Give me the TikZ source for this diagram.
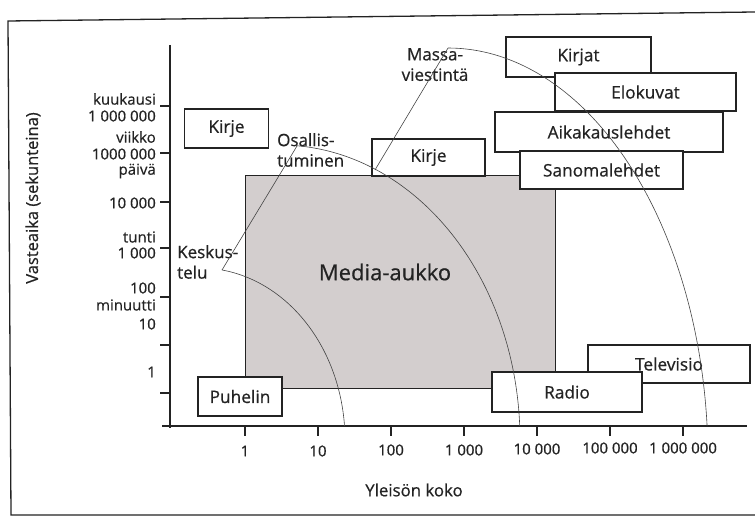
\documentclass[tikz,border=0pt]{standalone}
\usepackage{fontspec}
\setmainfont{Open Sans}[FakeBold=0.6]
\definecolor{gapgray}{RGB}{211,206,206}
\definecolor{ink}{RGB}{35,35,35}
\begin{document}
\begin{tikzpicture}[x=1pt,y=-1pt,
  every node/.style={text=ink},
  box/.style={draw=ink, line width=1.1pt, fill=white, inner sep=0pt,
    font=\fontsize{17.3}{19}\selectfont},
  ticklab/.style={font=\fontsize{15}{16}\selectfont, inner sep=0pt},
  curvelab/.style={font=\fontsize{17}{20.5}\selectfont, inner sep=0pt},
  curve/.style={draw=ink!85, line width=0.6pt},
  axis/.style={draw=ink, line width=1.1pt},
  frame/.style={draw=ink, line width=1.3pt}
]
\useasboundingbox (0,0) rectangle (755,518);

% outer frame
\draw[frame] (755,12) -- (8,21) -- (11,515) -- (755,515);

% media gap area
\node[draw=ink, line width=1.1pt, fill=gapgray, minimum width=310pt, minimum height=213pt,
  inner sep=0pt, anchor=north west] (gap) at (245,175) {};
\node[font=\fontsize{22}{24}\selectfont] (gaplab) at (385,272) {Media-aukko};

% axes
\draw[axis] (170,45) -- (170,428);
\draw[axis] (162,426) -- (747,426);
\foreach \yy in {106,153,202,248,297,345,393} \draw[axis] (160,\yy) -- (170,\yy);
\foreach \xx in {245,318,391,464,537,610,683} \draw[axis] (\xx,426) -- (\xx,436);

% y tick labels
\node[ticklab, anchor=east] (yl1) at (156,99) {kuukausi};
\node[ticklab, anchor=east] (yl2) at (156,116) {1 000 000};
\node[ticklab, anchor=east] (yl3) at (156,137) {viikko};
\node[ticklab, anchor=east] (yl4) at (156,154) {1000 000};
\node[ticklab, anchor=east] (yl5) at (156,171) {päivä};
\node[ticklab, anchor=east] (yl6) at (156,203) {10 000};
\node[ticklab, anchor=east] (yl7) at (156,237) {tunti};
\node[ticklab, anchor=east] (yl8) at (156,253) {1 000};
\node[ticklab, anchor=east] (yl9) at (156,288) {100};
\node[ticklab, anchor=east] (yl10) at (156,305) {minuutti};
\node[ticklab, anchor=east] (yl11) at (156,324) {10};
\node[ticklab, anchor=east] (yl12) at (156,372) {1};

% x tick labels
\node[ticklab] (xl1) at (245,451) {1};
\node[ticklab] (xl2) at (318,451) {10};
\node[ticklab] (xl3) at (391,450) {100};
\node[ticklab] (xl4) at (464,450) {1 000};
\node[ticklab] (xl5) at (537,449) {10 000};
\node[ticklab] (xl6) at (610,448) {100 000};
\node[ticklab] (xl7) at (683,448) {1 000 000};

% axis titles
\node[font=\fontsize{16.8}{18}\selectfont] (xtitle) at (414,490) {Yleisön koko};
\node[font=\fontsize{16.5}{18}\selectfont, rotate=90] (ytitle) at (33,198) {Vasteaika (sekunteina)};

% media boxes
\node[box, minimum width=84pt, minimum height=39pt] (kirje1) at (226.5,128.5) {Kirje};
\node[box, minimum width=113pt, minimum height=37pt] (kirje2) at (428.5,157.5) {Kirje};
\node[box, minimum width=145pt, minimum height=40pt] (kirjat) at (578.5,57) {Kirjat};
\node[box, minimum width=181pt, minimum height=38pt] (elokuvat) at (645.5,92) {Elokuvat};
\node[box, minimum width=228pt, minimum height=40pt] (aika) at (609,132) {Aikakauslehdet};
\node[box, minimum width=163pt, minimum height=38pt] (sanoma) at (601.5,170) {Sanomalehdet};
\node[box, minimum width=84pt, minimum height=39pt] (puhelin) at (240,396.5) {Puhelin};
\node[box, minimum width=162pt, minimum height=38pt] (tv) at (669,364) {Televisio};
\node[box, minimum width=150pt, minimum height=40pt] (radio) at (567,392) {Radio};

% curve labels
\node[curvelab, anchor=north west, align=left] (keskus) at (177,245) {Keskus-\\telu};
\node[curvelab, anchor=north west, align=left] (osallis) at (277,133) {Osallis-\\tuminen};
\node[curvelab, anchor=north, align=center] (massa) at (435,48) {Massa-\\viestintä};

% curve points
\coordinate (k0) at (222,270);
\coordinate (o0) at (297,146);
\coordinate (m0) at (448,48);
\coordinate (mo) at (375,170);

% curves
\draw[curve] (o0) -- (k0);
\draw[curve] (m0) -- (mo);
\draw[curve] plot[domain=81.3:4.67, samples=60, smooth] ({200+145*cos(\x)}, {440-172*sin(\x)});
\draw[curve] plot[domain=86:2.7, samples=60, smooth] ({280+240*cos(\x)}, {440-295*sin(\x)});
\draw[curve] plot[domain=90:4.7, samples=60, smooth] ({448+260*cos(\x)}, {460-412*sin(\x)});
\end{tikzpicture}
\end{document}
